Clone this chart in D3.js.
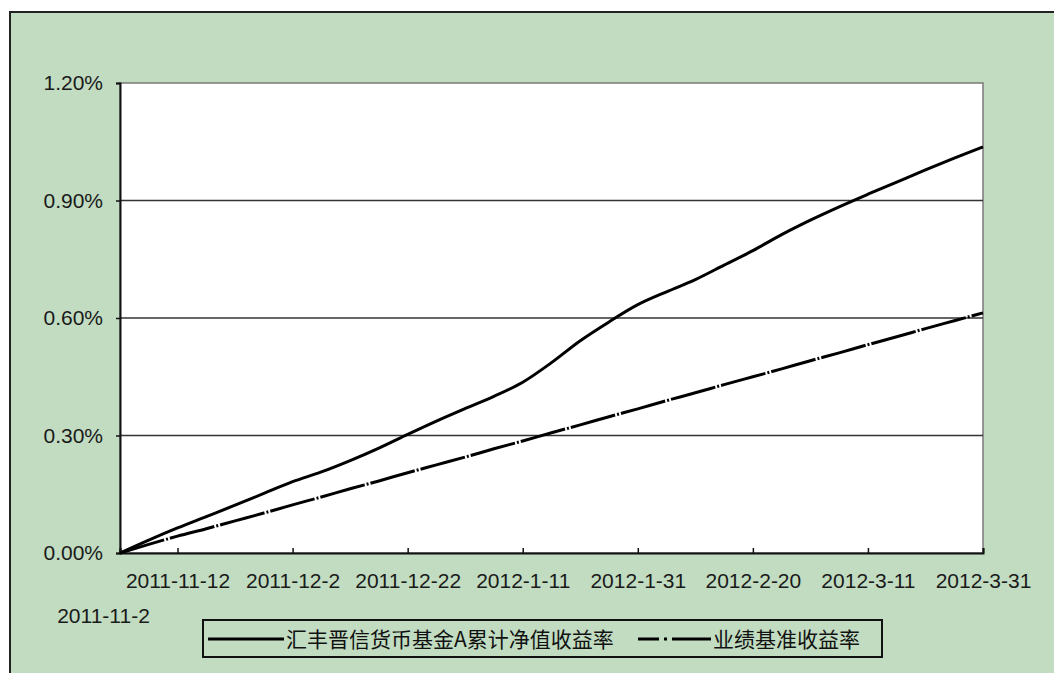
<!DOCTYPE html>
<meta charset="utf-8">

<head>
    <title>汇丰晋信货币基金A累计净值收益率</title>
    <script src="https://d3js.org/d3.v7.min.js"></script>
    <style>
        body {
            margin: 0;
            background: #fff;
        }

        .axis text {
            font: 21px "Liberation Sans", Arial, sans-serif;
            fill: #1a1a1a;
        }

        .legend text {
            font: 21px "Noto Sans CJK SC", sans-serif;
            fill: #111;
        }
    </style>
</head>

<body>
    <svg width="1054" height="673"></svg>
    <script>

        // sampled every 5 days
        var dates = ["2011-11-02", "2011-11-07", "2011-11-12", "2011-11-17", "2011-11-22", "2011-11-27",
            "2011-12-02", "2011-12-07", "2011-12-12", "2011-12-17", "2011-12-22", "2011-12-27",
            "2012-01-01", "2012-01-06", "2012-01-11", "2012-01-16", "2012-01-21", "2012-01-26",
            "2012-01-31", "2012-02-05", "2012-02-10", "2012-02-15", "2012-02-20", "2012-02-25",
            "2012-03-01", "2012-03-06", "2012-03-11", "2012-03-16", "2012-03-21", "2012-03-26", "2012-03-31"];

        var fundReturn = [0, 0.033, 0.064, 0.093, 0.122, 0.152,
            0.182, 0.207, 0.236, 0.268, 0.303, 0.337,
            0.369, 0.400, 0.436, 0.486, 0.542, 0.590,
            0.634, 0.667, 0.698, 0.735, 0.772, 0.813,
            0.850, 0.884, 0.916, 0.947, 0.978, 1.008, 1.037];

        var benchReturn = [0, 0.022, 0.043, 0.062, 0.082, 0.102,
            0.123, 0.143, 0.164, 0.184, 0.205, 0.225,
            0.245, 0.266, 0.286, 0.307, 0.327, 0.348,
            0.368, 0.389, 0.409, 0.430, 0.450, 0.470,
            0.491, 0.511, 0.532, 0.552, 0.573, 0.593, 0.613];

        var tickDates = ["2011-11-2", "2011-11-12", "2011-12-2", "2011-12-22", "2012-1-11",
            "2012-1-31", "2012-2-20", "2012-3-11", "2012-3-31"];

        var yTicks = [0, 0.3, 0.6, 0.9, 1.2];

        var seriesNames = ["汇丰晋信货币基金A累计净值收益率", "业绩基准收益率"];

        var svg = d3.select("svg"),
            plotL = 120, plotR = 983, plotT = 83, plotB = 553;

        var parse = d3.timeParse("%Y-%m-%d"),
            fmt = d3.timeFormat("%Y-%-m-%-d");

        var x = d3.scaleTime()
            .domain([parse(dates[0]), parse(dates[dates.length - 1])])
            .range([plotL, plotR]);

        var y = d3.scaleLinear()
            .domain([0, 1.2])
            .range([plotB, plotT]);

        // outer chart frame
        svg.append("rect")
            .attr("x", 10).attr("y", 12)
            .attr("width", 1100).attr("height", 700)
            .attr("fill", "#c1dcc1")
            .attr("stroke", "#222")
            .attr("stroke-width", 2);

        // plot area
        svg.append("rect")
            .attr("x", plotL).attr("y", plotT)
            .attr("width", plotR - plotL).attr("height", plotB - plotT)
            .attr("fill", "#fff")
            .attr("stroke", "#7a7a7a")
            .attr("stroke-width", 1.5);

        svg.append("g")
            .selectAll("line")
            .data(yTicks.slice(1, -1))
            .enter().append("line")
            .attr("x1", plotL).attr("x2", plotR)
            .attr("y1", function (d) { return y(d); })
            .attr("y2", function (d) { return y(d); })
            .attr("stroke", "#333")
            .attr("stroke-width", 1.5);

        var yAxis = svg.append("g")
            .attr("class", "axis")
            .attr("transform", "translate(" + plotL + ",0)")
            .call(d3.axisLeft(y)
                .tickValues(yTicks)
                .tickSize(4)
                .tickPadding(13)
                .tickFormat(function (d) { return d.toFixed(2) + "%"; }));

        var xAxis = svg.append("g")
            .attr("class", "axis")
            .attr("transform", "translate(0," + plotB + ")")
            .call(d3.axisBottom(x)
                .tickValues(tickDates.map(function (d) { return parse(d); }))
                .tickSize(-5)
                .tickPadding(20)
                .tickFormat(fmt));

        svg.selectAll(".axis .domain").attr("stroke", "#111").attr("stroke-width", 2);
        svg.selectAll(".axis .tick line").attr("stroke", "#111").attr("stroke-width", 1.5);

        // first date label sits on a second row in the original
        xAxis.select(".tick text")
            .attr("y", 55)
            .attr("x", -17);

        var line = d3.line()
            .curve(d3.curveMonotoneX)
            .x(function (d) { return x(d.date); })
            .y(function (d) { return y(d.v); });

        var fund = dates.map(function (d, i) { return { date: parse(d), v: fundReturn[i] }; });
        var bench = dates.map(function (d, i) { return { date: parse(d), v: benchReturn[i] }; });

        svg.append("path")
            .datum(bench)
            .attr("d", line)
            .attr("fill", "none")
            .attr("stroke", "#000")
            .attr("stroke-width", 3)
            .attr("stroke-dasharray", "46,2,2,2");

        svg.append("path")
            .datum(fund)
            .attr("d", line)
            .attr("fill", "none")
            .attr("stroke", "#000")
            .attr("stroke-width", 3);

        // legend
        var legend = svg.append("g").attr("class", "legend");

        legend.append("rect")
            .attr("x", 203).attr("y", 620)
            .attr("width", 679).attr("height", 37)
            .attr("fill", "none")
            .attr("stroke", "#111")
            .attr("stroke-width", 2);

        legend.append("line")
            .attr("x1", 208).attr("x2", 284)
            .attr("y1", 639).attr("y2", 639)
            .attr("stroke", "#000").attr("stroke-width", 3);

        legend.append("text")
            .attr("x", 286).attr("y", 647)
            .text(seriesNames[0]);

        legend.append("line")
            .attr("x1", 638).attr("x2", 711)
            .attr("y1", 639).attr("y2", 639)
            .attr("stroke", "#000").attr("stroke-width", 3)
            .attr("stroke-dasharray", "21,5,3,5,40");

        legend.append("text")
            .attr("x", 713).attr("y", 647)
            .text(seriesNames[1]);

    </script>
</body>

</html>
